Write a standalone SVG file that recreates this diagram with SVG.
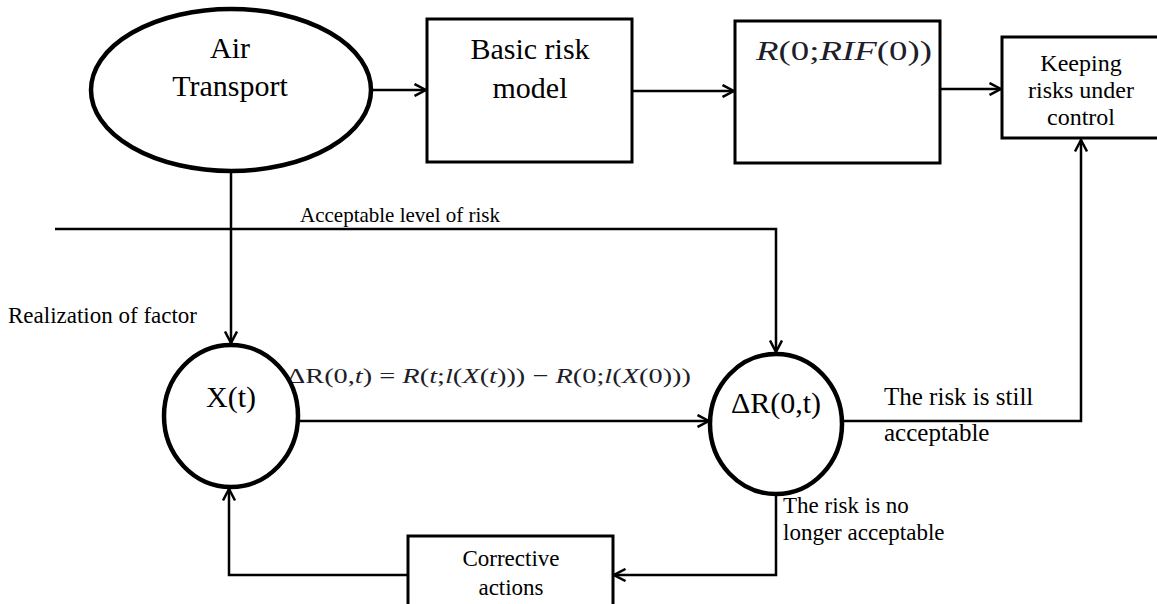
<svg xmlns="http://www.w3.org/2000/svg" width="1157" height="604" viewBox="0 0 1157 604">
<defs>
<style>
.t{font-family:"Liberation Serif","Times New Roman",serif;fill:#000;}
.m{font-family:"Liberation Serif","DejaVu Serif",serif;fill:#1e1e2a;}
.i{font-style:italic;}
.box{fill:#fff;stroke:#000;stroke-width:3;}
.oval{fill:#fff;stroke:#000;stroke-width:4.5;}
.ln{fill:none;stroke:#000;stroke-width:2.5;marker-end:url(#arr);}
</style>
<marker id="arr" viewBox="0 0 14 14" refX="12.5" refY="7" markerWidth="14" markerHeight="14" markerUnits="userSpaceOnUse" orient="auto">
<path d="M1,1 L12.5,7 L1,13" fill="none" stroke="#000" stroke-width="2.5"/>
</marker>
</defs>

<g id="labels">
<text class="m" x="287" y="383" font-size="22" textLength="404" lengthAdjust="spacingAndGlyphs">ΔR<tspan font-style="normal">(0,</tspan><tspan class="i">t</tspan><tspan font-style="normal">) = </tspan><tspan class="i">R</tspan><tspan font-style="normal">(</tspan><tspan class="i">t</tspan><tspan font-style="normal">;</tspan><tspan class="i">l</tspan><tspan font-style="normal">(</tspan><tspan class="i">X</tspan><tspan font-style="normal">(</tspan><tspan class="i">t</tspan><tspan font-style="normal">))) − </tspan><tspan class="i">R</tspan><tspan font-style="normal">(0;</tspan><tspan class="i">l</tspan><tspan font-style="normal">(</tspan><tspan class="i">X</tspan><tspan font-style="normal">(0)))</tspan></text>
<text class="t" x="300" y="222" font-size="21">Acceptable level of risk</text>
<text class="t" x="8" y="323" font-size="23">Realization of factor</text>
<text class="t" x="884" y="405" font-size="25">The risk is still</text>
<text class="t" x="884" y="441" font-size="25">acceptable</text>
<text class="t" x="783" y="513" font-size="23">The risk is no</text>
<text class="t" x="783" y="540" font-size="23">longer acceptable</text>
</g>

<g id="connectors">
<line class="ln" x1="372" y1="90" x2="426" y2="90"/>
<line class="ln" x1="632" y1="91" x2="734" y2="91"/>
<line class="ln" x1="940" y1="89" x2="1001" y2="89"/>
<path class="ln" d="M843,421 H1081 V140"/>
<path class="ln" d="M55,229 H776 V352"/>
<path class="ln" d="M231,171 V343"/>
<line class="ln" x1="298" y1="421" x2="709" y2="421"/>
<path class="ln" d="M776,494 V575 H614"/>
<path class="ln" d="M408,575 H229 V489"/>
</g>

<g id="air-transport">
<ellipse class="oval" cx="231" cy="90" rx="140" ry="81"/>
<text class="t" x="230" y="58" font-size="30" text-anchor="middle">Air</text>
<text class="t" x="230" y="96" font-size="30" text-anchor="middle">Transport</text>
</g>

<g id="basic-risk-model">
<rect class="box" x="427" y="19" width="205" height="143"/>
<text class="t" x="530" y="59" font-size="30" text-anchor="middle">Basic risk</text>
<text class="t" x="530" y="98" font-size="30" text-anchor="middle">model</text>
</g>

<g id="r-box">
<rect class="box" x="735" y="21" width="205" height="142"/>
<text class="m" x="756" y="60" font-size="28" textLength="176" lengthAdjust="spacingAndGlyphs"><tspan class="i">R</tspan>(0;<tspan class="i">RIF</tspan>(0))</text>
</g>

<g id="keeping">
<rect class="box" x="1002" y="37" width="160" height="101"/>
<text class="t" x="1081" y="71" font-size="24" text-anchor="middle">Keeping</text>
<text class="t" x="1081" y="98" font-size="24" text-anchor="middle">risks under</text>
<text class="t" x="1081" y="125" font-size="24" text-anchor="middle">control</text>
</g>

<g id="x-t">
<ellipse class="oval" cx="231" cy="416" rx="67" ry="71"/>
<text class="t" x="231" y="407" font-size="30" text-anchor="middle">X(t)</text>
</g>

<g id="delta-r">
<ellipse class="oval" cx="776" cy="424" rx="66" ry="70"/>
<text class="t" x="776" y="413" font-size="30" text-anchor="middle">ΔR(0,t)</text>
</g>

<g id="corrective">
<rect class="box" x="408" y="536" width="205" height="90"/>
<text class="t" x="511" y="566" font-size="23" text-anchor="middle">Corrective</text>
<text class="t" x="511" y="595" font-size="23" text-anchor="middle">actions</text>
</g>
</svg>
